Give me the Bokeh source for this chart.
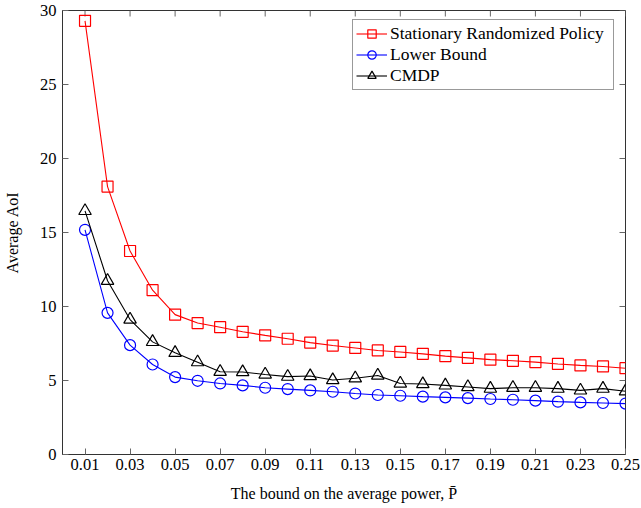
import math
from bokeh.plotting import figure
from bokeh.models import FixedTicker, Range1d
from bokeh.embed import file_html
from bokeh.resources import INLINE

# ---- data ----
power = [0.01, 0.02, 0.03, 0.04, 0.05, 0.06, 0.07, 0.08, 0.09, 0.10, 0.11, 0.12, 0.13,
         0.14, 0.15, 0.16, 0.17, 0.18, 0.19, 0.20, 0.21, 0.22, 0.23, 0.24, 0.25]
srp = [29.3, 18.1, 13.75, 11.1, 9.45, 8.88, 8.6, 8.29, 8.05, 7.82, 7.56, 7.36, 7.2,
       7.03, 6.93, 6.8, 6.65, 6.53, 6.41, 6.33, 6.24, 6.12, 6.02, 5.95, 5.83]
lower = [15.18, 9.57, 7.39, 6.08, 5.23, 4.98, 4.8, 4.67, 4.51, 4.42, 4.33, 4.24, 4.12,
         4.02, 3.97, 3.91, 3.86, 3.81, 3.75, 3.7, 3.64, 3.57, 3.52, 3.48, 3.44]
cmdp = [16.46, 11.74, 9.12, 7.61, 6.87, 6.24, 5.59, 5.57, 5.41, 5.26, 5.3, 5.03, 5.15,
        5.34, 4.8, 4.76, 4.67, 4.56, 4.45, 4.51, 4.51, 4.45, 4.33, 4.45, 4.27]
x_ticks = [0.01, 0.03, 0.05, 0.07, 0.09, 0.11, 0.13, 0.15, 0.17, 0.19, 0.21, 0.23, 0.25]
x_tick_labels = ["0.01", "0.03", "0.05", "0.07", "0.09", "0.11", "0.13", "0.15",
                 "0.17", "0.19", "0.21", "0.23", "0.25"]
y_ticks = [0, 5, 10, 15, 20, 25, 30]
series_names = ["Stationary Randomized Policy", "Lower Bound", "CMDP"]

FONT = "Liberation Serif"
FRAME = "#333333"
TICK = "#666666"
TICK_LEN = 6

x_min, x_max = 0, x_ticks[-1]
y_min, y_max = y_ticks[0], y_ticks[-1]

p = figure(width=641, height=508, output_backend="svg", toolbar_location=None,
           x_range=Range1d(x_min, x_max), y_range=Range1d(y_min, y_max),
           min_border_left=61, min_border_right=16, min_border_top=10,
           min_border_bottom=54,
           x_axis_label="The bound on the average power, P\u0304",
           y_axis_label="Average AoI")
p.xgrid.visible = False
p.ygrid.visible = False
p.outline_line_color = FRAME
p.outline_line_width = 1
p.background_fill_color = "white"
p.border_fill_color = "white"


def style_axis(ax, ticks):
    ax.ticker = FixedTicker(ticks=ticks)
    ax.major_tick_in = TICK_LEN
    ax.major_tick_out = 0
    ax.minor_tick_in = 0
    ax.minor_tick_out = 0
    ax.major_tick_line_color = TICK
    ax.major_tick_line_width = 1
    ax.axis_line_color = FRAME
    ax.major_label_text_font = FONT
    ax.major_label_text_color = "black"
    ax.major_label_text_font_size = "16.5px"
    ax.axis_label_text_font = FONT
    ax.axis_label_text_font_style = "normal"
    ax.axis_label_text_font_size = "16px"
    ax.axis_label_text_color = "black"


xa = p.xaxis[0]
style_axis(xa, x_ticks)
xa.major_label_overrides = {t: s for t, s in zip(x_ticks, x_tick_labels)}
xa.major_label_standoff = 4
xa.axis_label_standoff = 12

ya = p.yaxis[0]
style_axis(ya, y_ticks)
ya.major_label_standoff = 6
ya.axis_label_standoff = 16

# mirrored inward ticks on the top and right edges of the frame
p.ray(x=x_ticks, y=[y_max] * len(x_ticks), length=TICK_LEN, length_units="screen",
      angle=-math.pi / 2, line_color=TICK, line_width=1)
p.ray(x=[x_max] * len(y_ticks), y=y_ticks, length=TICK_LEN, length_units="screen",
      angle=math.pi, line_color=TICK, line_width=1)

specs = [
    (srp, "#ff0000", "square", 11),
    (lower, "#0000ff", "circle", 11),
    (cmdp, "black", "triangle", 12.5),
]
for (vals, color, marker, size), name in zip(specs, series_names):
    p.line(power, vals, line_color=color, line_width=1.1, legend_label=name)
    p.scatter(power, vals, marker=marker, size=size, line_color=color,
              fill_color=None, line_width=1.2, legend_label=name)

lg = p.legend[0]
lg.location = (290, 364)
lg.label_text_font = FONT
lg.label_text_font_size = "17.5px"
lg.label_text_color = "black"
lg.glyph_width = 31
lg.glyph_height = 21
lg.label_height = 21
lg.label_width = 220
lg.label_standoff = 3
lg.spacing = 0
lg.padding = 3
lg.margin = 0
lg.border_line_color = FRAME
lg.border_line_width = 1
lg.background_fill_color = "white"
lg.background_fill_alpha = 1

open("out.html", "w").write(file_html(p, INLINE))
